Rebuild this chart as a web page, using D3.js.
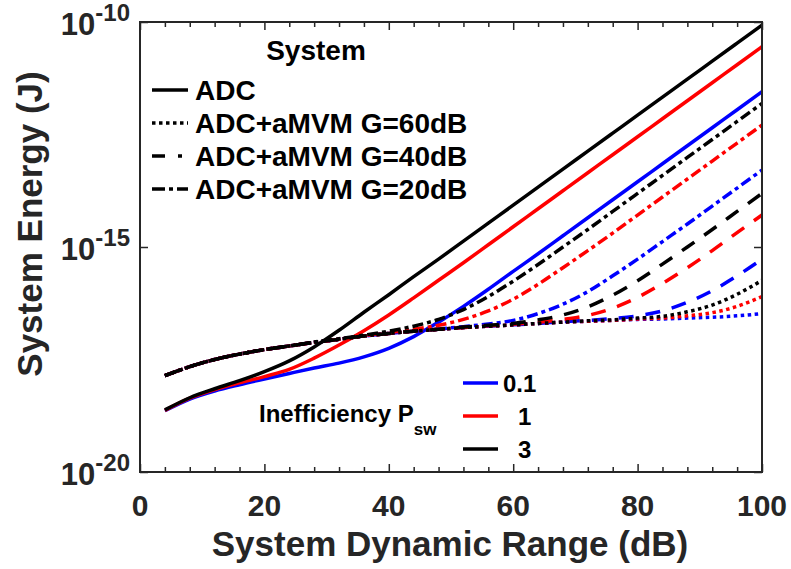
<!DOCTYPE html>
<html>
<head>
<meta charset="utf-8">
<script src="https://cdn.jsdelivr.net/npm/d3@7"></script>
<style>
  body { margin: 0; background: #fff; }
  svg { display: block; font-family: "Liberation Sans", Arial, Helvetica, sans-serif; font-weight: bold; }
</style>
</head>
<body>
<svg id="chart" width="791" height="569"></svg>
<script>
// System dynamic range (dB) at which each curve is sampled
const dynamicRange = [4, 8, 12, 16, 20, 24, 28, 32, 36, 40, 44, 48, 52, 56, 60, 64, 68, 72, 76, 80, 84, 88, 92, 96, 100];

// System energy (J): ADC alone, for inefficiency Psw = 0.1, 1, 3
const adcP01 = [2.29e-19, 4.17e-19, 6.31e-19, 8.71e-19, 1.17e-18, 1.55e-18, 2.04e-18, 2.63e-18, 3.63e-18, 5.62e-18, 1.02e-17, 2.14e-17, 4.79e-17, 1.15e-16, 2.88e-16, 7.08e-16, 1.78e-15, 4.47e-15, 1.12e-14, 2.82e-14, 7.08e-14, 1.78e-13, 4.47e-13, 1.12e-12, 2.82e-12];
const adcP1 = [2.34e-19, 4.37e-19, 6.76e-19, 9.55e-19, 1.32e-18, 1.91e-18, 3.39e-18, 6.61e-18, 1.38e-17, 3.09e-17, 7.41e-17, 1.82e-16, 4.47e-16, 1.12e-15, 2.82e-15, 7.08e-15, 1.78e-14, 4.47e-14, 1.12e-13, 2.82e-13, 7.08e-13, 1.78e-12, 4.47e-12, 1.12e-11, 2.82e-11];
const adcP3 = [2.40e-19, 4.47e-19, 7.08e-19, 1.07e-18, 1.70e-18, 2.95e-18, 6.03e-18, 1.41e-17, 3.55e-17, 8.71e-17, 2.19e-16, 5.37e-16, 1.35e-15, 3.39e-15, 8.51e-15, 2.14e-14, 5.37e-14, 1.35e-13, 3.39e-13, 8.51e-13, 2.14e-12, 5.37e-12, 1.35e-11, 3.39e-11, 8.51e-11];

// ADC + aMVM, G = 60 dB
const g60P01 = [1.38e-18, 2.19e-18, 3.16e-18, 4.17e-18, 5.25e-18, 6.31e-18, 7.59e-18, 8.91e-18, 1.05e-17, 1.20e-17, 1.35e-17, 1.48e-17, 1.62e-17, 1.74e-17, 1.86e-17, 2.00e-17, 2.14e-17, 2.24e-17, 2.34e-17, 2.46e-17, 2.51e-17, 2.63e-17, 2.75e-17, 2.95e-17, 3.31e-17];
const g60P1 = [1.38e-18, 2.19e-18, 3.16e-18, 4.17e-18, 5.25e-18, 6.31e-18, 7.59e-18, 8.91e-18, 1.05e-17, 1.20e-17, 1.35e-17, 1.48e-17, 1.62e-17, 1.74e-17, 1.86e-17, 2.00e-17, 2.14e-17, 2.24e-17, 2.34e-17, 2.51e-17, 2.63e-17, 2.95e-17, 3.47e-17, 4.79e-17, 7.94e-17];
const g60P3 = [1.38e-18, 2.19e-18, 3.16e-18, 4.17e-18, 5.25e-18, 6.31e-18, 7.59e-18, 8.91e-18, 1.05e-17, 1.20e-17, 1.35e-17, 1.48e-17, 1.62e-17, 1.74e-17, 1.86e-17, 2.00e-17, 2.14e-17, 2.29e-17, 2.40e-17, 2.63e-17, 2.88e-17, 3.63e-17, 5.13e-17, 8.91e-17, 1.82e-16];

// ADC + aMVM, G = 40 dB
const g40P01 = [1.38e-18, 2.19e-18, 3.16e-18, 4.17e-18, 5.25e-18, 6.31e-18, 7.59e-18, 8.91e-18, 1.05e-17, 1.20e-17, 1.35e-17, 1.48e-17, 1.62e-17, 1.74e-17, 1.86e-17, 2.00e-17, 2.19e-17, 2.34e-17, 2.57e-17, 2.95e-17, 3.80e-17, 5.89e-17, 1.07e-16, 2.29e-16, 5.37e-16];
const g40P1 = [1.38e-18, 2.19e-18, 3.16e-18, 4.17e-18, 5.25e-18, 6.31e-18, 7.59e-18, 8.91e-18, 1.05e-17, 1.20e-17, 1.35e-17, 1.48e-17, 1.62e-17, 1.78e-17, 1.91e-17, 2.14e-17, 2.46e-17, 3.02e-17, 4.37e-17, 7.59e-17, 1.55e-16, 3.47e-16, 8.32e-16, 2.09e-15, 5.13e-15];
const g40P3 = [1.38e-18, 2.19e-18, 3.16e-18, 4.17e-18, 5.25e-18, 6.31e-18, 7.59e-18, 8.91e-18, 1.05e-17, 1.20e-17, 1.35e-17, 1.48e-17, 1.66e-17, 1.82e-17, 2.00e-17, 2.40e-17, 3.09e-17, 4.68e-17, 8.51e-17, 1.78e-16, 4.17e-16, 1.00e-15, 2.45e-15, 6.17e-15, 1.55e-14];

// ADC + aMVM, G = 20 dB
const g20P01 = [1.38e-18, 2.19e-18, 3.16e-18, 4.17e-18, 5.25e-18, 6.31e-18, 7.59e-18, 8.91e-18, 1.05e-17, 1.20e-17, 1.35e-17, 1.51e-17, 1.70e-17, 1.95e-17, 2.34e-17, 3.31e-17, 5.37e-17, 1.02e-16, 2.29e-16, 5.37e-16, 1.32e-15, 3.24e-15, 8.13e-15, 2.04e-14, 5.13e-14];
const g20P1 = [1.38e-18, 2.19e-18, 3.16e-18, 4.17e-18, 5.25e-18, 6.31e-18, 7.59e-18, 8.91e-18, 1.07e-17, 1.26e-17, 1.48e-17, 1.82e-17, 2.46e-17, 3.80e-17, 6.92e-17, 1.48e-16, 3.47e-16, 8.32e-16, 2.04e-15, 5.13e-15, 1.29e-14, 3.24e-14, 8.13e-14, 2.04e-13, 5.13e-13];
const g20P3 = [1.38e-18, 2.19e-18, 3.16e-18, 4.17e-18, 5.25e-18, 6.31e-18, 7.76e-18, 9.12e-18, 1.10e-17, 1.35e-17, 1.74e-17, 2.46e-17, 4.07e-17, 7.94e-17, 1.74e-16, 4.07e-16, 1.00e-15, 2.45e-15, 6.17e-15, 1.55e-14, 3.89e-14, 9.77e-14, 2.45e-13, 6.17e-13, 1.55e-12];

// Axis ticks and legend texts
const xMajorTicks = [0, 20, 40, 60, 80, 100];
const xMinorTicks = [4, 8, 12, 16, 24, 28, 32, 36, 44, 48, 52, 56, 64, 68, 72, 76, 84, 88, 92, 96];
const yTickExponents = [-20, -15, -10];
const systemLabels = ["ADC", "ADC+aMVM G=60dB", "ADC+aMVM G=40dB", "ADC+aMVM G=20dB"];
const pswLabels = ["0.1", "1", "3"];

// Styling: ADC solid, G=60 dotted, G=40 dashed, G=20 dash-dot
const pswColors = ["#0000ff", "#ff0000", "#000000"];
const styleDash = [null, "3.5,3.5", "15,12", "11,4,4,4"];
const legendDash = [null, "3.5,3.5", "13,13", "13,4,4,4"];
const legendLineEnd = [188, 188, 182, 188];
const axisColor = "#262626";

// Series in drawing order: each Psw colour, then each system style
const seriesGrid = [
  [adcP01, g60P01, g40P01, g20P01],
  [adcP1, g60P1, g40P1, g20P1],
  [adcP3, g60P3, g40P3, g20P3]
];

const svg = d3.select("#chart");
const plotLeft = 140, plotRight = 762, plotTop = 22, plotBottom = 472;

const x = d3.scaleLinear().domain([0, 100]).range([plotLeft, plotRight]);
const y = d3.scaleLog().domain([1e-20, 1e-10]).range([plotBottom, plotTop]);

svg.append("defs").append("clipPath").attr("id", "plotClip")
  .append("rect").attr("x", plotLeft).attr("y", plotTop)
  .attr("width", plotRight - plotLeft).attr("height", plotBottom - plotTop);

// Curves
const line = d3.line()
  .x(d => x(d[0]))
  .y(d => y(d[1]))
  .curve(d3.curveMonotoneX);

const curves = svg.append("g").attr("clip-path", "url(#plotClip)");
seriesGrid.forEach((row, ci) => {
  row.forEach((values, si) => {
    const pts = dynamicRange.map((dr, i) => [dr, values[i]]);
    const p = curves.append("path")
      .attr("d", line(pts))
      .attr("fill", "none")
      .attr("stroke", pswColors[ci])
      .attr("stroke-width", 3.5)
      .attr("stroke-linecap", "butt");
    if (styleDash[si]) p.attr("stroke-dasharray", styleDash[si]);
  });
});

// Axes box with inward ticks on all four sides
const axes = svg.append("g");
function tickAxis(gen, tf) {
  const g = axes.append("g").attr("transform", tf).call(gen);
  g.select(".domain").remove();
  g.selectAll("line").attr("stroke", axisColor).attr("stroke-width", 1.5);
  g.selectAll("text").remove();
  return g;
}
tickAxis(d3.axisBottom(x).tickValues(xMajorTicks).tickSize(-8), `translate(0,${plotBottom})`);
tickAxis(d3.axisBottom(x).tickValues(xMinorTicks).tickSize(-5), `translate(0,${plotBottom})`);
tickAxis(d3.axisTop(x).tickValues(xMajorTicks).tickSize(-8), `translate(0,${plotTop})`);
tickAxis(d3.axisTop(x).tickValues(xMinorTicks).tickSize(-5), `translate(0,${plotTop})`);
const yTickVals = yTickExponents.map(e => Math.pow(10, e));
tickAxis(d3.axisLeft(y).tickValues(yTickVals).tickSize(-8), `translate(${plotLeft},0)`);
tickAxis(d3.axisRight(y).tickValues(yTickVals).tickSize(-8), `translate(${plotRight},0)`);

axes.append("rect")
  .attr("x", plotLeft).attr("y", plotTop)
  .attr("width", plotRight - plotLeft).attr("height", plotBottom - plotTop)
  .attr("fill", "none").attr("stroke", axisColor).attr("stroke-width", 2);

// X tick labels
axes.selectAll("text.xtick").data(xMajorTicks).join("text")
  .attr("class", "xtick")
  .attr("x", d => x(d)).attr("y", 516)
  .attr("text-anchor", "middle")
  .attr("font-size", 30).attr("fill", axisColor)
  .text(d => d);

// Y tick labels as powers of ten
yTickExponents.forEach(e => {
  const t = axes.append("text")
    .attr("x", 130).attr("y", y(Math.pow(10, e)) + 13)
    .attr("text-anchor", "end")
    .attr("font-size", 31).attr("fill", axisColor);
  t.append("tspan").text("10");
  t.append("tspan").attr("dy", -14).attr("font-size", 24).text(String(e));
});

// Axis titles
svg.append("text")
  .attr("x", 450).attr("y", 556)
  .attr("text-anchor", "middle")
  .attr("font-size", 35).attr("fill", axisColor)
  .text("System Dynamic Range (dB)");
svg.append("text")
  .attr("transform", "translate(42,224) rotate(-90)")
  .attr("text-anchor", "middle")
  .attr("font-size", 35).attr("fill", axisColor)
  .text("System Energy (J)");

// Legend: system configuration (line style)
const leg = svg.append("g");
leg.append("text")
  .attr("x", 316).attr("y", 60)
  .attr("text-anchor", "middle").attr("font-size", 28).attr("fill", "#000")
  .text("System");
systemLabels.forEach((lab, i) => {
  const cy = 90 + i * 33;
  const l = leg.append("line")
    .attr("x1", 152).attr("x2", legendLineEnd[i]).attr("y1", cy).attr("y2", cy)
    .attr("stroke", "#000").attr("stroke-width", 3.5);
  if (legendDash[i]) l.attr("stroke-dasharray", legendDash[i]);
  leg.append("text")
    .attr("x", 195).attr("y", cy + 10)
    .attr("font-size", 28).attr("fill", "#000")
    .text(lab);
});

// Legend: inefficiency (colour)
const leg2 = svg.append("g");
const ineff = leg2.append("text")
  .attr("x", 259).attr("y", 422)
  .attr("font-size", 24).attr("fill", "#000");
ineff.append("tspan").text("Inefficiency P");
ineff.append("tspan").attr("dy", 13).attr("font-size", 17).text("sw");
pswLabels.forEach((lab, i) => {
  const cy = 383 + i * 33;
  leg2.append("line")
    .attr("x1", 463).attr("x2", 498).attr("y1", cy).attr("y2", cy)
    .attr("stroke", pswColors[i]).attr("stroke-width", 3.5);
  leg2.append("text")
    .attr("x", i === 0 ? 503 : 518).attr("y", cy + 9)
    .attr("font-size", 24).attr("fill", "#000")
    .text(lab);
});
</script>
</body>
</html>
